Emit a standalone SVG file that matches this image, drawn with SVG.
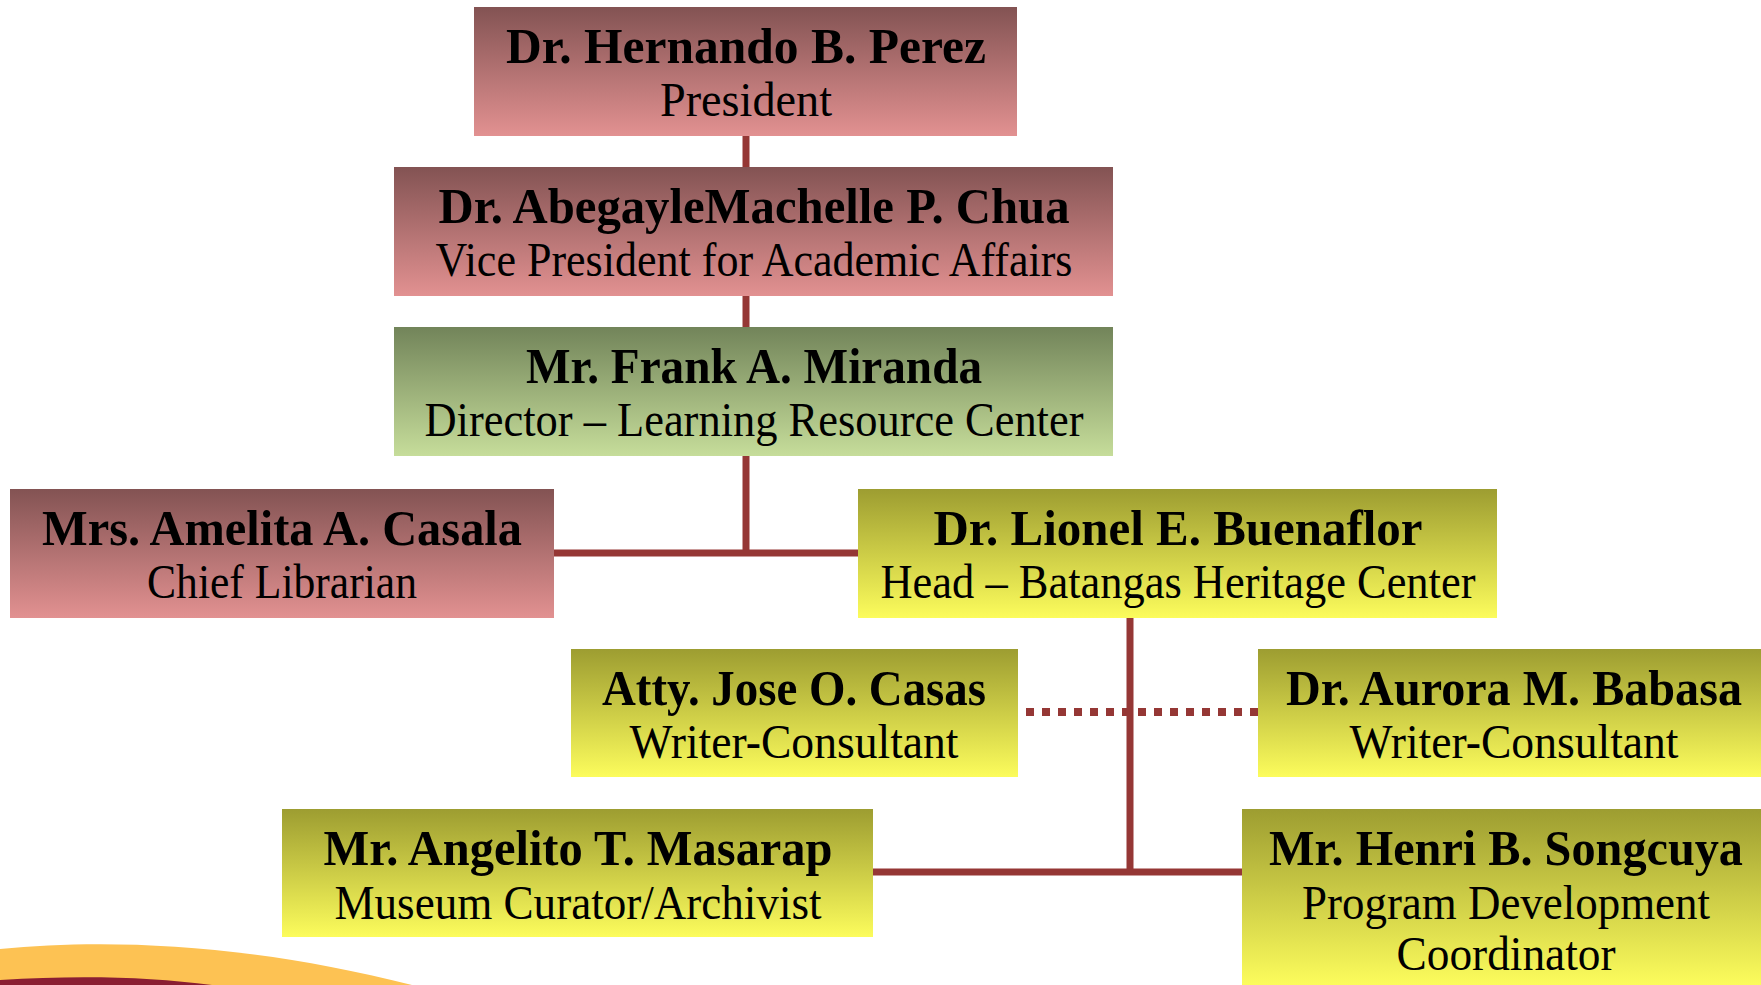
<svg xmlns="http://www.w3.org/2000/svg" width="1761" height="985" viewBox="0 0 1761 985">
<defs>
<linearGradient id="gPink" x1="0" y1="0" x2="0" y2="1"><stop offset="0" stop-color="#835353"/><stop offset="1" stop-color="#e29191"/></linearGradient>
<linearGradient id="gGreen" x1="0" y1="0" x2="0" y2="1"><stop offset="0" stop-color="#72845a"/><stop offset="1" stop-color="#c6dd9a"/></linearGradient>
<linearGradient id="gYellow" x1="0" y1="0" x2="0" y2="1"><stop offset="0" stop-color="#9d9d31"/><stop offset="1" stop-color="#fcfc5c"/></linearGradient>
</defs>
<style>
.n{font-family:"Liberation Serif","Times New Roman",serif;font-weight:bold;font-size:50px;fill:#000;text-anchor:middle}
.t{font-family:"Liberation Serif","Times New Roman",serif;font-size:48px;fill:#000;text-anchor:middle}
.c{stroke:#953735;stroke-width:7;fill:none}
.d{stroke:#953735;stroke-width:8;fill:none;stroke-dasharray:8 8}
</style>
<rect width="1761" height="985" fill="#fff"/>
<g id="decoration">
<path d="M0,949 C110,938 250,944 412,985 L0,985 Z" fill="#fdc253"/>
<path d="M0,980 C80,975 150,977 212,985 L0,985 Z" fill="#8a1e33"/>
</g>
<g id="connectors">
<line class="c" x1="746" y1="136" x2="746" y2="167"/>
<line class="c" x1="746" y1="296" x2="746" y2="327"/>
<line class="c" x1="746" y1="456" x2="746" y2="553"/>
<line class="c" x1="554" y1="553" x2="858" y2="553"/>
<line class="c" x1="1130" y1="618" x2="1130" y2="872"/>
<line class="c" x1="873" y1="872" x2="1242" y2="872"/>
<line class="d" x1="1026" y1="712" x2="1258" y2="712"/>
</g>
<g id="perez">
<rect x="474" y="7" width="543" height="129" fill="url(#gPink)"/>
<text class="n" x="746" y="63" textLength="480" lengthAdjust="spacingAndGlyphs">Dr. Hernando B. Perez</text>
<text class="t" x="746" y="116" textLength="172" lengthAdjust="spacingAndGlyphs">President</text>
</g>
<g id="chua">
<rect x="394" y="167" width="719" height="129" fill="url(#gPink)"/>
<text class="n" x="754" y="223" textLength="631" lengthAdjust="spacingAndGlyphs">Dr. AbegayleMachelle P. Chua</text>
<text class="t" x="754" y="276" textLength="637" lengthAdjust="spacingAndGlyphs">Vice President for Academic Affairs</text>
</g>
<g id="miranda">
<rect x="394" y="327" width="719" height="129" fill="url(#gGreen)"/>
<text class="n" x="754" y="383" textLength="456" lengthAdjust="spacingAndGlyphs">Mr. Frank A. Miranda</text>
<text class="t" x="754" y="436" textLength="659" lengthAdjust="spacingAndGlyphs">Director – Learning Resource Center</text>
</g>
<g id="casala">
<rect x="10" y="489" width="544" height="129" fill="url(#gPink)"/>
<text class="n" x="282" y="545" textLength="480" lengthAdjust="spacingAndGlyphs">Mrs. Amelita A. Casala</text>
<text class="t" x="282" y="598" textLength="270" lengthAdjust="spacingAndGlyphs">Chief Librarian</text>
</g>
<g id="buenaflor">
<rect x="858" y="489" width="639" height="129" fill="url(#gYellow)"/>
<text class="n" x="1178" y="545" textLength="489" lengthAdjust="spacingAndGlyphs">Dr. Lionel E. Buenaflor</text>
<text class="t" x="1178" y="598" textLength="595" lengthAdjust="spacingAndGlyphs">Head – Batangas Heritage Center</text>
</g>
<g id="casas">
<rect x="571" y="649" width="447" height="128" fill="url(#gYellow)"/>
<text class="n" x="794" y="705" textLength="384" lengthAdjust="spacingAndGlyphs">Atty. Jose O. Casas</text>
<text class="t" x="794" y="758" textLength="329" lengthAdjust="spacingAndGlyphs">Writer-Consultant</text>
</g>
<g id="babasa">
<rect x="1258" y="649" width="503" height="128" fill="url(#gYellow)"/>
<text class="n" x="1514" y="705" textLength="456" lengthAdjust="spacingAndGlyphs">Dr. Aurora M. Babasa</text>
<text class="t" x="1514" y="758" textLength="329" lengthAdjust="spacingAndGlyphs">Writer-Consultant</text>
</g>
<g id="masarap">
<rect x="282" y="809" width="591" height="128" fill="url(#gYellow)"/>
<text class="n" x="578" y="865" textLength="509" lengthAdjust="spacingAndGlyphs">Mr. Angelito T. Masarap</text>
<text class="t" x="578" y="919" textLength="487" lengthAdjust="spacingAndGlyphs">Museum Curator/Archivist</text>
</g>
<g id="songcuya">
<rect x="1242" y="809" width="519" height="176" fill="url(#gYellow)"/>
<text class="n" x="1506" y="865" textLength="474" lengthAdjust="spacingAndGlyphs">Mr. Henri B. Songcuya</text>
<text class="t" x="1506" y="919" textLength="408" lengthAdjust="spacingAndGlyphs">Program Development</text>
<text class="t" x="1506" y="970" textLength="219" lengthAdjust="spacingAndGlyphs">Coordinator</text>
</g>
</svg>
